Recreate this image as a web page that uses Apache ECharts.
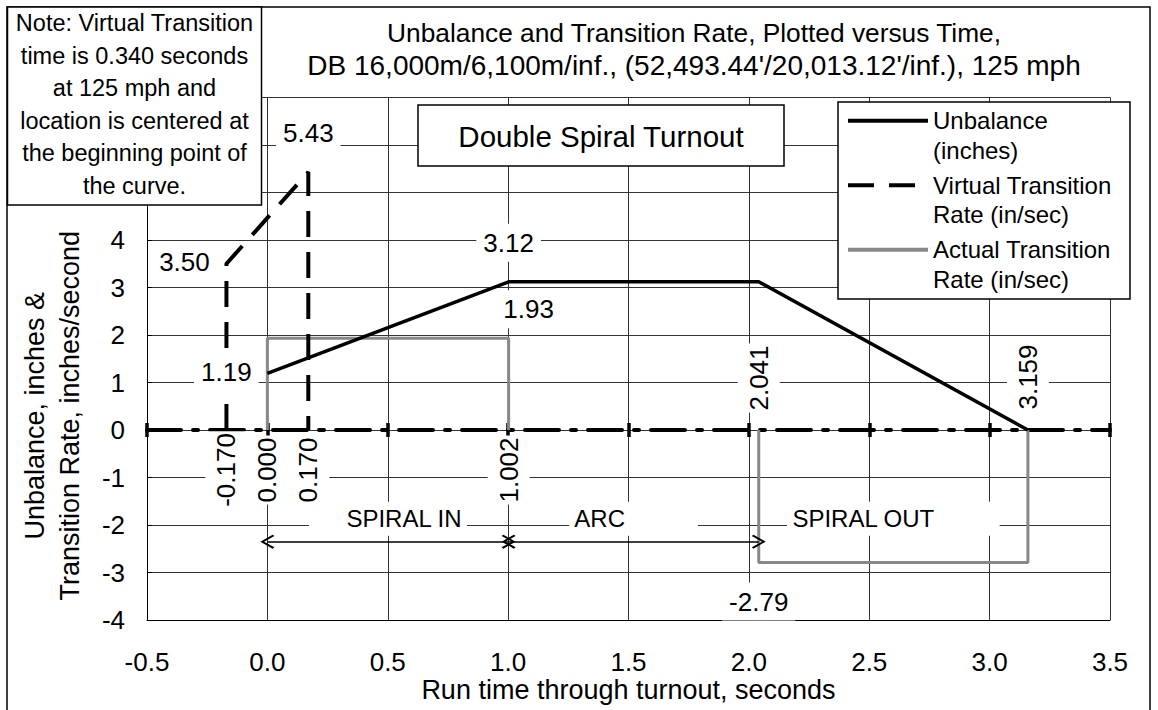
<!DOCTYPE html>
<html>
<head>
<meta charset="utf-8">
<script src="https://cdn.jsdelivr.net/npm/echarts@6/dist/echarts.min.js"></script>
<style>html,body{margin:0;padding:0;background:#fff}#c{width:1158px;height:710px}</style>
</head>
<body>
<div id="c"></div>
<script>
// ---------------- data ----------------
const unbalanceX = [0, 1.002, 2.041, 3.159];
const unbalanceY = [1.19, 3.12, 3.12, 0];
const virtualX = [-0.170, -0.170, 0.170, 0.170];
const virtualY = [0, 3.50, 5.43, 0];
const actualX = [0, 0, 1.002, 1.002, null, 2.041, 2.041, 3.159, 3.159];
const actualY = [0, 1.93, 1.93, 0, null, 0, -2.79, -2.79, 0];
const sectionNames = ['SPIRAL IN', 'ARC', 'SPIRAL OUT'];
const sectionBounds = [0, 1.002, 2.041, 3.159];
const dimensionLevel = -2.35;
const seriesNames = ['Unbalance\n(inches)', 'Virtual Transition\nRate (in/sec)', 'Actual Transition\nRate (in/sec)'];
const titleLines = ['Unbalance and Transition Rate, Plotted versus Time,',
  "DB 16,000m/6,100m/inf., (52,493.44'/20,013.12'/inf.), 125 mph"];
const noteLines = ['Note: Virtual Transition', 'time is 0.340 seconds', 'at 125 mph and',
  'location is centered at', 'the beginning point of', 'the curve.'];
const boxText = 'Double Spiral Turnout';
const xAxisName = 'Run time through turnout, seconds';
const yAxisName = 'Unbalance, inches &\nTransition Rate, inches/second';
const xMin = -0.5, xMax = 3.5, xStep = 0.5;
const yMin = -4, yMax = 7, yStep = 1;
const yLabelMaxShown = 4; // labels above this sit behind the note box

// ---------------- label styling (kind: which value is shown) ----------------
const labelSpecs = {
  unbalance: { 0: { k: 'y', off: [-41, -1] }, 1: { k: 'y', off: [0, -39] } },
  virtual: { 0: { k: 'x', off: [0, 40], rot: 90 }, 1: { k: 'y', off: [-42, -2] },
             2: { k: 'y', off: [0, -39] }, 3: { k: 'x', off: [0, 40], rot: 90 } },
  actual: { 0: { k: 'x', off: [0, 40], rot: 90 }, 2: { k: 'y', off: [20, -29] },
            3: { k: 'x', off: [0, 40], rot: 90 }, 5: { k: 'x', off: [0, -52], rot: 90 },
            6: { k: 'y', off: [0, 39] }, 8: { k: 'x', off: [0, -53], rot: 90 } }
};
const sectionLabelShift = [16, -34, -30];

const FONT = 'Liberation Sans';

function preRot(dx, dy, deg) {
  const t = deg * Math.PI / 180, c = Math.cos(t), s = Math.sin(t);
  return [dx * c - dy * s, dx * s + dy * c];
}

function buildData(xs, ys, specs) {
  return xs.map((x, i) => {
    if (x === null) return [null, null];
    const item = { value: [x, ys[i]] };
    const sp = specs[i];
    if (sp) {
      const rot = sp.rot || 0;
      const txt = sp.k === 'x' ? x.toFixed(3) : ys[i].toFixed(2);
      item.label = {
        show: true,
        formatter: txt,
        position: 'inside',
        rotate: rot,
        offset: rot ? preRot(sp.off[0], sp.off[1], rot) : sp.off,
        align: 'center',
        verticalAlign: 'middle',
        fontSize: 26,
        lineHeight: 30,
        color: '#000',
        fontFamily: FONT,
        backgroundColor: '#fff',
        padding: rot ? [6, 2, 6, 2] : [4, 7, 4, 7]
      };
    }
    return item;
  });
}

const chevron = 'path://M6,0 L12,10.5 L10.8,12 L6,3.2 L1.2,12 L0,10.5 Z';

const markLineData = sectionNames.map((n, i) => {
  const hasArrow = i < 2;
  const sh = sectionLabelShift[i];
  const p = [3, 5 + Math.max(0, -2 * sh), 3, 5 + Math.max(0, 2 * sh)];
  return [
    { name: n, coord: [sectionBounds[i], dimensionLevel], symbol: hasArrow ? chevron : 'none',
      lineStyle: hasArrow ? {} : { color: 'rgba(0,0,0,0)', width: 0.01 },
      label: { padding: p } },
    { coord: [sectionBounds[i + 1], dimensionLevel], symbol: hasArrow ? chevron : 'none' }
  ];
});

const chart = echarts.init(document.getElementById('c'), null, { renderer: 'svg' });

const xAxisBase = { type: 'value', min: xMin, max: xMax, interval: xStep, gridIndex: 0 };

chart.setOption({
  animation: false,
  textStyle: { fontFamily: FONT, color: '#000' },
  grid: { left: 147, right: 48, top: 97.5, bottom: 90, outerBoundsMode: 'none', containLabel: false },
  title: [
    {
      text: '{l1|' + titleLines[0] + '}\n{l2|' + titleLines[1] + '}', left: 692, top: 13, textAlign: 'center',
      padding: [4, 6, 16, 2], backgroundColor: '#fff', z: 20,
      textStyle: {
        fontSize: 26.3, lineHeight: 32, fontWeight: 'normal', color: '#000', fontFamily: FONT,
        rich: {
          l1: { fontSize: 26.3, lineHeight: 32, color: '#000', fontFamily: FONT },
          l2: { fontSize: 28, lineHeight: 32, color: '#000', fontFamily: FONT }
        }
      }
    },
    {
      text: noteLines.join('\n'), left: 126.5, top: 7, textAlign: 'center',
      padding: [0, 8, 3, 8], backgroundColor: '#fff', borderColor: '#000', borderWidth: 1.5, z: 20,
      textStyle: { fontSize: 23.5, lineHeight: 32.5, fontWeight: 'normal', color: '#000', fontFamily: FONT }
    },
    {
      text: boxText, left: 561, top: 105, textAlign: 'center',
      padding: [14, 40, 13, 40], backgroundColor: '#fff', borderColor: '#000', borderWidth: 1.5, z: 20,
      textStyle: { fontSize: 29.5, lineHeight: 34, fontWeight: 'normal', color: '#000', fontFamily: FONT }
    }
  ],
  legend: {
    orient: 'vertical', left: 846, top: 76.5, padding: 0, z: 30,
    selectedMode: false,
    itemWidth: 80, itemHeight: 14, itemGap: -24,
    itemStyle: { opacity: 0 },
    lineStyle: { width: 4 },
    formatter: n => '\n' + n,
    textStyle: { fontSize: 24, lineHeight: 29.5, color: '#000', fontFamily: FONT },
    data: seriesNames
  },
  graphic: [
    { type: 'rect', shape: { x: 7, y: 7, width: 1143, height: 730 },
      style: { fill: 'none', stroke: '#000', lineWidth: 1.5 }, z: 1, silent: true },
    { type: 'rect', shape: { x: 838, y: 102, width: 292, height: 197 },
      style: { fill: '#fff', stroke: '#000', lineWidth: 1.5 }, z: 25, silent: true }
  ],
  xAxis: [
    Object.assign({}, xAxisBase, {
      position: 'bottom',
      name: xAxisName, nameLocation: 'middle', nameGap: 54, nameMoveOverlap: false,
      nameTextStyle: { fontSize: 27, lineHeight: 32, color: '#000', fontFamily: FONT },
      axisLine: { show: true, onZero: false, lineStyle: { color: '#000', width: 1 } },
      axisTick: { show: false },
      axisLabel: { fontSize: 26, lineHeight: 28, margin: 28, color: '#000', fontFamily: FONT,
                   formatter: v => v.toFixed(1) },
      splitLine: { show: true, lineStyle: { color: '#333', width: 1 } }
    }),
    Object.assign({}, xAxisBase, {
      axisLine: { show: true, onZero: true, onZeroAxisIndex: 0,
                  lineStyle: { color: '#000', width: 4, type: [34, 12, 5, 12] } },
      axisTick: { show: true, inside: false, length: 7, lineStyle: { color: '#000', width: 3.5 } },
      axisLabel: { show: false }, splitLine: { show: false }
    }),
    Object.assign({}, xAxisBase, {
      axisLine: { show: false, onZero: true, onZeroAxisIndex: 0 },
      axisTick: { show: true, inside: true, length: 7, lineStyle: { color: '#000', width: 3.5 } },
      axisLabel: { show: false }, splitLine: { show: false }
    })
  ],
  yAxis: {
    type: 'value', min: yMin, max: yMax, interval: yStep,
    name: yAxisName, nameLocation: 'middle', nameGap: 60, nameMoveOverlap: false,
    nameTextStyle: { fontSize: 27, lineHeight: 35, color: '#000', fontFamily: FONT, padding: [0, 114, 0, 0] },
    axisLine: { show: true, onZero: false, lineStyle: { color: '#000', width: 1 } },
    axisTick: { show: true, inside: true, length: 5, lineStyle: { color: '#000' } },
    axisLabel: { fontSize: 26, margin: 22, color: '#000', fontFamily: FONT,
                 formatter: v => (v > yLabelMaxShown ? '' : String(v)) },
    splitLine: { show: true, lineStyle: { color: '#333', width: 1 } }
  },
  series: [
    {
      name: seriesNames[2], type: 'line', xAxisIndex: 0,
      data: buildData(actualX, actualY, labelSpecs.actual),
      symbol: 'circle', symbolSize: 0.5, connectNulls: false,
      itemStyle: { color: '#888' },
      lineStyle: { color: '#888', width: 3 },
      z: 3,
      markLine: {
        silent: true, symbolSize: [14, 14], precision: 3,
        lineStyle: { color: '#000', width: 1.5, type: 'solid' },
        label: { show: true, formatter: '{b}', position: 'insideMiddleTop', distance: 6,
                 fontSize: 24, lineHeight: 28, color: '#000', fontFamily: FONT, backgroundColor: '#fff' },
        emphasis: { disabled: true },
        data: markLineData
      }
    },
    {
      name: seriesNames[1], type: 'line', xAxisIndex: 0,
      data: buildData(virtualX, virtualY, labelSpecs.virtual),
      symbol: 'circle', symbolSize: 0.5,
      itemStyle: { color: '#000' },
      lineStyle: { color: '#000', width: 4, type: [26, 15] },
      z: 4
    },
    {
      name: seriesNames[0], type: 'line', xAxisIndex: 0,
      data: buildData(unbalanceX, unbalanceY, labelSpecs.unbalance),
      symbol: 'circle', symbolSize: 0.5,
      itemStyle: { color: '#000' },
      lineStyle: { color: '#000', width: 3.5 },
      z: 5
    }
  ]
});
</script>
</body>
</html>
